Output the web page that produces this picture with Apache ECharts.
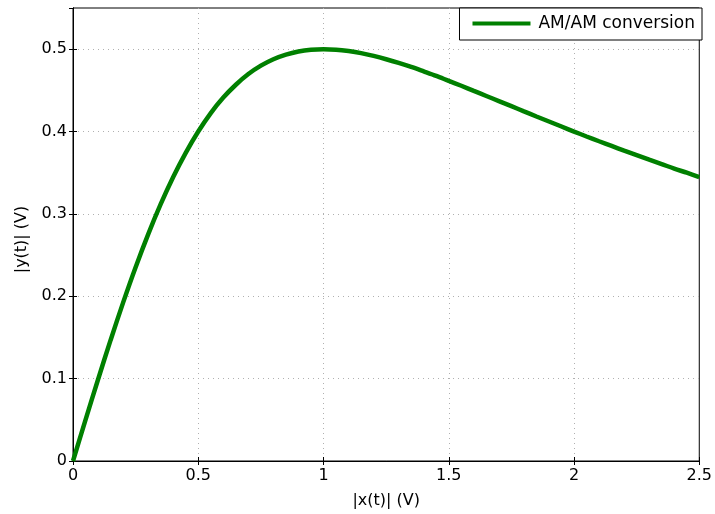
<!DOCTYPE html>
<html>
<head>
<meta charset="utf-8">
<script src="https://cdn.jsdelivr.net/npm/echarts@6/dist/echarts.min.js"></script>
<style>html,body{margin:0;padding:0;background:#fff}#c{width:715px;height:514px}</style>
</head>
<body>
<div id="c"></div>
<script>
const xValues = [0,0.05,0.1,0.15,0.2,0.25,0.3,0.35,0.4,0.45,0.5,0.55,0.6,0.65,0.7,0.75,0.8,0.85,0.9,0.95,1.0,1.05,1.1,1.15,1.2,1.25,1.3,1.35,1.4,1.45,1.5,1.55,1.6,1.65,1.7,1.75,1.8,1.85,1.9,1.95,2.0,2.05,2.1,2.15,2.2,2.25,2.3,2.35,2.4,2.45,2.5];
const yValues = [0,0.0499,0.0990,0.1467,0.1923,0.2353,0.2752,0.3118,0.3448,0.3741,0.4000,0.4224,0.4412,0.4568,0.4698,0.4800,0.4878,0.4934,0.4972,0.4993,0.5000,0.4994,0.4977,0.4952,0.4918,0.4878,0.4833,0.4784,0.4730,0.4675,0.4615,0.4556,0.4494,0.4432,0.4370,0.4308,0.4245,0.4183,0.4122,0.4061,0.4000,0.3940,0.3882,0.3825,0.3768,0.3713,0.3658,0.3605,0.3550,0.3500,0.3448];
const seriesName = 'AM/AM conversion';
const xTitle = '|x(t)| (V)';
const yTitle = '|y(t)| (V)';

const font = 'DejaVu Sans, sans-serif';
const chart = echarts.init(document.getElementById('c'));
const gridLine = {show:true, showMinLine:false, showMaxLine:false, lineStyle:{color:'#b0b0b0', type:[1,4], width:1}};
chart.setOption({
  animation:false,
  backgroundColor:'#fff',
  grid:{left:73, right:15, top:8, bottom:52, show:true, borderColor:'#000', borderWidth:1},
  legend:{
    top:8, right:13, data:[seriesName], icon:'rect', itemWidth:58, itemHeight:4,
    borderColor:'#000', borderWidth:1, borderRadius:0, backgroundColor:'#fff',
    padding:[7,7,8,13], itemGap:0,
    textStyle:{fontFamily:font, fontSize:17, color:'#000', padding:[0,0,0,3]}
  },
  xAxis:[{
    type:'value', min:0, max:2.5, interval:0.5, position:'bottom',
    name:xTitle, nameLocation:'middle', nameGap:32,
    nameTextStyle:{fontFamily:font, fontSize:16, color:'#000'},
    axisLine:{show:true, lineStyle:{color:'#000'}},
    axisTick:{show:true, inside:true, length:4, lineStyle:{color:'#000'}},
    axisLabel:{fontFamily:font, fontSize:16, color:'#000', margin:7},
    splitLine:gridLine
  },{
    type:'value', min:0, max:2.5, interval:0.5, position:'top',
    axisLine:{show:true, lineStyle:{color:'#000'}},
    axisTick:{show:true, inside:true, length:4, lineStyle:{color:'#000'}},
    axisLabel:{show:false}, splitLine:{show:false}
  }],
  yAxis:[{
    type:'value', min:0, max:0.55, interval:0.1, position:'left',
    name:yTitle, nameLocation:'middle', nameGap:43, nameRotate:90,
    nameTextStyle:{fontFamily:font, fontSize:16, color:'#000', padding:[0,0,0,-10]},
    axisLine:{show:true, lineStyle:{color:'#000'}},
    axisTick:{show:true, inside:true, length:4, lineStyle:{color:'#000'}},
    axisLabel:{fontFamily:font, fontSize:16, color:'#000', margin:6, showMaxLabel:false,
      formatter:v=> v===0 ? '0' : String(Math.round(v*10)/10)},
    splitLine:gridLine
  },{
    type:'value', min:0, max:0.55, interval:0.1, position:'right',
    axisLine:{show:true, lineStyle:{color:'#000'}},
    axisTick:{show:true, inside:true, length:4, lineStyle:{color:'#000'}},
    axisLabel:{show:false}, splitLine:{show:false}
  }],
  series:[{
    name:seriesName, type:'line', smooth:0.3, showSymbol:false,
    data:xValues.map((x,i)=>[x,yValues[i]]),
    lineStyle:{color:'#008000', width:4.5}, itemStyle:{color:'#008000'}
  }]
});
</script>
</body>
</html>
